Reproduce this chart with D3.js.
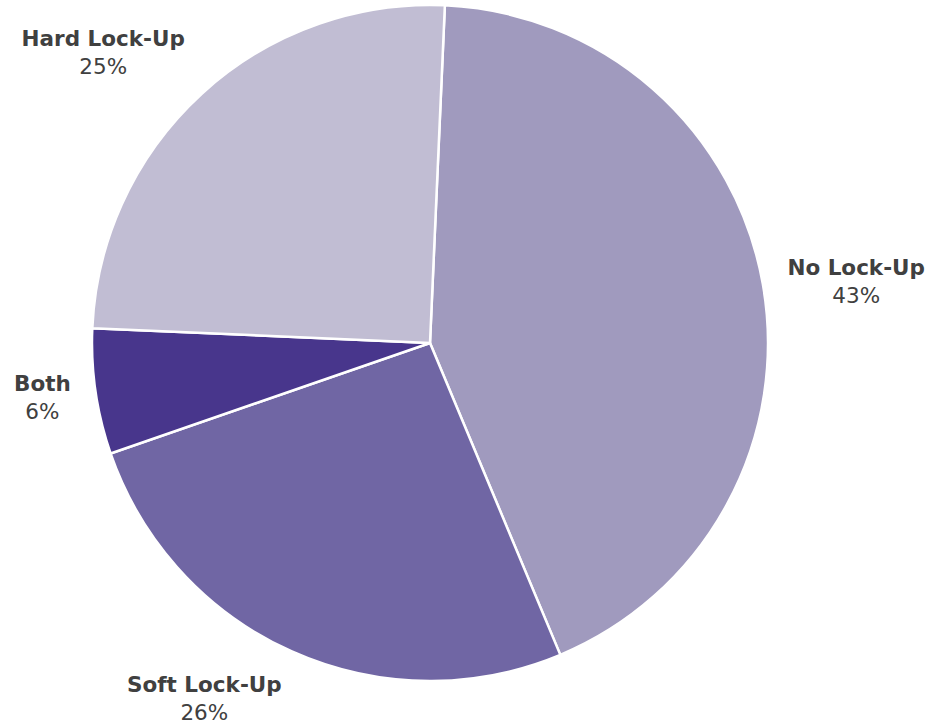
<!DOCTYPE html>
<html>
<head>
<meta charset="utf-8">
<script src="https://cdn.jsdelivr.net/npm/d3@7"></script>
<style>
  body { margin: 0; background: #fff; }
  text { font-family: "DejaVu Sans", Verdana, sans-serif; fill: #404040; }
</style>
</head>
<body>
<svg id="chart-svg" width="934" height="724"></svg>
<script>
// slice data, clockwise from the top
const categories = ['No Lock-Up', 'Soft Lock-Up', 'Both', 'Hard Lock-Up'];
const values = [43, 26, 6, 25];
const percentLabels = ['43%', '26%', '6%', '25%'];
const colors = ['#a09abe', '#7066a4', '#48368c', '#c1bdd3'];

const width = 934, height = 724;
const cx = 430, cy = 343, radius = 338;
const startAngle = 0.044;

let svg = d3.select('#chart-svg');
let g = svg.append('g').attr('transform', 'translate(' + cx + ',' + cy + ')');

let pie = d3.pie()
    .sort(null)
    .value(d => d.value)
    .startAngle(startAngle)
    .endAngle(startAngle + 2 * Math.PI);

let arc = d3.arc().innerRadius(0).outerRadius(radius);

let data = categories.map((c, i) => ({name: c, value: values[i], pct: percentLabels[i], color: colors[i]}));
let arcs = pie(data);

g.selectAll('path.slice')
    .data(arcs)
    .enter()
    .append('path')
    .attr('class', 'slice')
    .attr('d', arc)
    .attr('fill', d => d.data.color)
    .attr('stroke', '#fff')
    .attr('stroke-width', 2.5)
    .attr('stroke-linejoin', 'round');

// labels outside the pie, box corner touching a point just past the rim
const labelRadius = radius + 25;
const fontSize = 21.5, lineHeight = 28;

arcs.forEach(d => {
    let a = (d.startAngle + d.endAngle) / 2;
    let s = Math.sin(a), c = Math.cos(a);
    let px = labelRadius * s, py = -labelRadius * c;

    let lg = g.append('g');
    let t1 = lg.append('text')
        .attr('text-anchor', 'middle')
        .style('font-size', fontSize + 'px')
        .style('font-weight', 'bold')
        .text(d.data.name);
    let t2 = lg.append('text')
        .attr('text-anchor', 'middle')
        .attr('y', lineHeight)
        .style('font-size', fontSize + 'px')
        .text(d.data.pct);

    let w = Math.max(t1.node().getComputedTextLength(), t2.node().getComputedTextLength());
    let h = lineHeight + fontSize;

    let bx = px + (Math.abs(s) > 0.3 ? Math.sign(s) * w / 2 : 0);
    let by = py - (Math.abs(c) > 0.5 ? Math.sign(c) * h / 2 : 0);

    // keep inside the window
    bx = Math.max(-cx + w / 2 + 10, Math.min(width - cx - w / 2 - 2, bx));
    by = Math.min(height - cy - h / 2 - 3, by);

    // by is the box centre; first baseline sits near its top
    lg.attr('transform', 'translate(' + bx + ',' + (by - h / 2 + fontSize * 0.95) + ')');
});
</script>
</body>
</html>
